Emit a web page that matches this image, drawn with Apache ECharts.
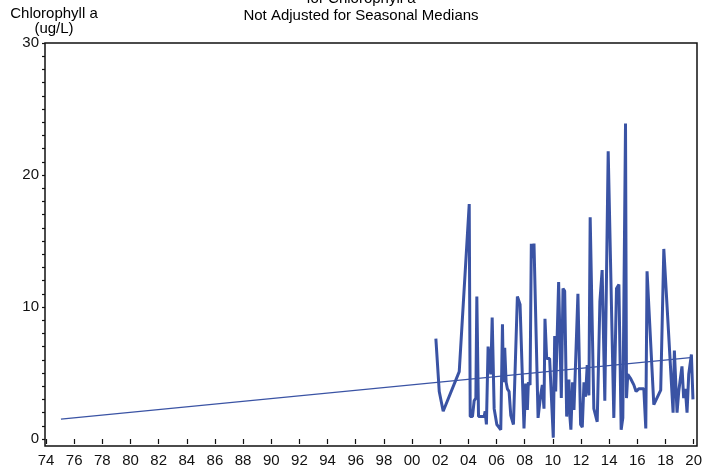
<!DOCTYPE html>
<html>
<head>
<meta charset="utf-8">
<script src="https://cdn.jsdelivr.net/npm/echarts@6/dist/echarts.min.js"></script>
<style>
  html, body { margin: 0; padding: 0; background: #fff; }
  #chart { width: 705px; height: 472px; }
</style>
</head>
<body>
<div id="chart"></div>
<script>
// sample dates (decimal years) and chlorophyll a readings (ug/L)
var sampleYears = [
  2001.69, 2001.93, 2002.21, 2003.35, 2004.06, 2004.13, 2004.29, 2004.41, 2004.53, 2004.60,
  2004.72, 2005.12, 2005.19, 2005.28, 2005.40, 2005.52, 2005.59, 2005.69, 2005.83, 2006.02,
  2006.16, 2006.30, 2006.42, 2006.49, 2006.58, 2006.68, 2006.77, 2006.89, 2007.01, 2007.20,
  2007.48, 2007.67, 2007.95, 2008.07, 2008.19, 2008.26, 2008.38, 2008.47, 2008.57, 2008.66,
  2008.95, 2009.13, 2009.25, 2009.37, 2009.44, 2009.56, 2009.77, 2010.03, 2010.13, 2010.20,
  2010.41, 2010.60, 2010.72, 2010.84, 2010.98, 2011.14, 2011.21, 2011.28, 2011.40, 2011.50,
  2011.78, 2011.97, 2012.09, 2012.21, 2012.32, 2012.44, 2012.56, 2012.65, 2012.91, 2013.15,
  2013.34, 2013.50, 2013.62, 2013.69, 2013.93, 2014.33, 2014.52, 2014.62, 2014.69, 2014.85,
  2014.97, 2015.16, 2015.23, 2015.32, 2015.51, 2015.75, 2015.91, 2016.10, 2016.46, 2016.60,
  2016.69, 2017.17, 2017.28, 2017.66, 2017.88, 2018.54, 2018.63, 2018.82, 2018.94, 2019.17,
  2019.29, 2019.41, 2019.53, 2019.65, 2019.84, 2019.95
];
var chlorophyll = [
  7.6, 3.6, 2.1, 5.1, 17.8, 1.7, 1.7, 2.9, 3.1, 10.8,
  1.7, 1.7, 2.1, 1.1, 7.0, 6.9, 4.9, 9.2, 2.3, 1.1,
  0.9, 0.7, 8.7, 4.3, 6.9, 4.3, 3.8, 3.6, 1.8, 1.1,
  10.8, 10.2, 0.8, 4.2, 2.2, 4.3, 4.1, 14.8, 13.7, 14.8,
  1.6, 3.3, 4.1, 2.3, 9.1, 6.1, 6.1, 0.1, 7.8, 3.6,
  11.9, 3.1, 11.4, 11.2, 1.7, 4.5, 1.7, 0.7, 4.3, 2.2,
  11.0, 1.1, 0.9, 4.3, 3.2, 5.6, 3.3, 16.8, 2.3, 1.3,
  10.4, 12.8, 12.7, 2.9, 21.8, 1.6, 11.4, 11.3, 11.7, 0.7,
  1.6, 23.9, 3.1, 4.9, 4.6, 4.1, 3.6, 3.8, 3.8, 0.8,
  12.7, 2.6, 2.5, 3.7, 14.4, 2.0, 6.7, 2.0, 3.6, 5.5,
  3.1, 3.8, 2.0, 4.9, 6.4, 3.0
];
// trend line end points
var trendYears = [1975.06, 2019.95];
var trendValues = [1.51, 6.19];

var yearTicks = { min: 1974, max: 2020, step: 2 };
var valueTicks = { min: 0, max: 30, step: 10 };

var lineColor = '#3a53a4';
var fontFamily = '"Liberation Sans", Arial, sans-serif';

function pairs(xs, ys) {
  return xs.map(function (x, i) { return [x, ys[i]]; });
}

var chart = echarts.init(document.getElementById('chart'));
var option = {
  animation: false,
  backgroundColor: '#fff',
  textStyle: { fontFamily: fontFamily, color: '#000' },
  grid: { left: 46, right: 10, top: 43, bottom: 33 },
  graphic: [
    {
      type: 'rect',
      shape: { x: 45, y: 43, width: 652, height: 403 },
      style: { fill: null, stroke: '#111', lineWidth: 1.5 },
      silent: true
    },
    {
      type: 'text', x: 361, y: -1,
      style: { text: 'for Chlorophyll a', font: '15px ' + fontFamily, fill: '#000',
               textAlign: 'center', textVerticalAlign: 'middle' }
    },
    {
      type: 'text', x: 361, y: 16,
      style: { text: 'Not Adjusted for Seasonal Medians', font: '15px ' + fontFamily, fill: '#000',
               textAlign: 'center', textVerticalAlign: 'middle' }
    },
    {
      type: 'text', x: 54, y: 14,
      style: { text: 'Chlorophyll a', font: '15px ' + fontFamily, fill: '#000',
               textAlign: 'center', textVerticalAlign: 'middle' }
    },
    {
      type: 'text', x: 54, y: 29,
      style: { text: '(ug/L)', font: '15px ' + fontFamily, fill: '#000',
               textAlign: 'center', textVerticalAlign: 'middle' }
    }
  ],
  xAxis: {
    type: 'value',
    min: yearTicks.min,
    max: yearTicks.max,
    interval: yearTicks.step,
    offset: 7,
    splitLine: { show: false },
    axisLine: { show: false },
    axisTick: { show: true, length: 5, lineStyle: { color: '#111', width: 1.2 } },
    axisLabel: {
      margin: 7,
      fontSize: 15,
      color: '#111',
      formatter: function (v) { return String(v % 100).padStart(2, '0'); }
    }
  },
  yAxis: {
    type: 'value',
    min: valueTicks.min,
    max: valueTicks.max,
    interval: valueTicks.step,
    offset: 1,
    splitLine: { show: false },
    axisLine: { show: false },
    axisTick: { show: true, length: 3, lineStyle: { color: '#111', width: 1.2 } },
    minorTick: { show: true, splitNumber: 10, length: 3, lineStyle: { color: '#111', width: 1.2 } },
    axisLabel: { margin: 6, fontSize: 15, color: '#111' }
  },
  series: [
    {
      type: 'line',
      data: pairs(sampleYears, chlorophyll),
      symbol: 'none',
      lineStyle: { color: lineColor, width: 3 },
      z: 3
    },
    {
      type: 'line',
      data: pairs(trendYears, trendValues),
      symbol: 'none',
      lineStyle: { color: lineColor, width: 1.2 },
      z: 4
    }
  ]
};
option && chart.setOption(option);
</script>
</body>
</html>
